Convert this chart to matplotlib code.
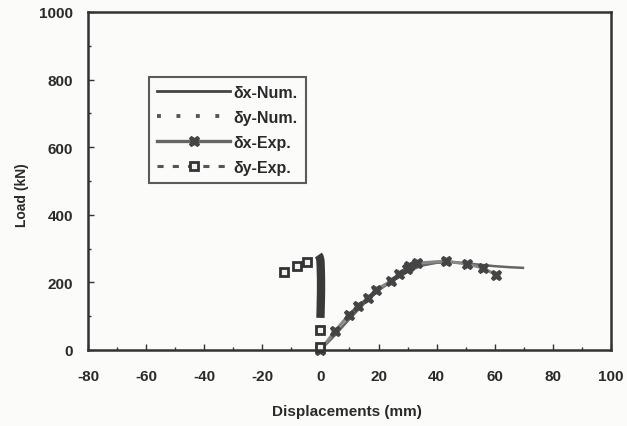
import matplotlib
matplotlib.use("Agg")
import matplotlib.pyplot as plt
from matplotlib.ticker import MultipleLocator
from matplotlib.lines import Line2D

plt.rcParams['font.family'] = ['Liberation Sans', 'DejaVu Sans']
plt.rcParams['font.weight'] = 'bold'
plt.rcParams['axes.unicode_minus'] = False

# Numerical curves
dx_num_x = [0, 5, 10, 15, 20, 25, 30, 35, 40, 45, 50, 55, 60, 65, 69.7]
dx_num_y = [0, 44, 92, 137, 176, 207, 232, 250, 258, 260, 257, 252, 248, 245, 243]

dy_num_x = [0.0, 0.1, 0.2, 0.2, 0.1, 0.0, -0.3, -0.7]
dy_num_y = [95, 130, 170, 210, 245, 265, 276, 281]

# Experimental curves
dx_exp_x = [0, 5.0, 9.8, 12.9, 16.4, 19.1, 24.3, 27.0, 29.8, 30.6, 33.2, 43.2, 50.6, 55.8, 60.6]
dx_exp_y = [0, 56, 104, 130, 154, 178, 204, 225, 240, 249, 257, 263, 254, 243, 222]

dy_exp_x = [0, -0.3, -4.6, -8.1, -12.5]
dy_exp_y = [8, 59, 260, 249, 231]

bg = '#fbfbf9'
ink = '#2a2a2a'
fig = plt.figure(figsize=(6.27, 4.27), dpi=100)
fig.patch.set_facecolor(bg)
ax = fig.add_axes([0.1404, 0.178, 0.834, 0.7916])
ax.set_facecolor(bg)

ax.plot(dx_num_x, dx_num_y, '-', color='#666666', lw=1.8)
# dense dotted numerical δy trace merges into a thick dark band
ax.plot(dy_num_x, dy_num_y, '-', color='#3a3a3a', lw=6, solid_capstyle='butt')
ax.plot(dx_exp_x, dx_exp_y, '-', color='#888888', lw=2.2, marker='X', ms=7.5,
        mfc='#444444', mec='#444444', mew=0.8, clip_on=False)
ax.plot(dy_exp_x, dy_exp_y, ls='none', marker='s', ms=6,
        mfc='#f2f2f2', mec='#333333', mew=2, clip_on=False)

handles = [
    Line2D([], [], ls='-', color='#444444', lw=2),
    Line2D([], [], ls=(0, (1, 4)), color='#555555', lw=2.8),
    Line2D([], [], ls='-', color='#666666', lw=2.4, marker='X', ms=7.5,
           mfc='#444444', mec='#444444', mew=0.8),
    Line2D([], [], ls=(0, (2, 3)), color='#555555', lw=2.2, marker='s', ms=6,
           mfc='#f2f2f2', mec='#333333', mew=2),
]
labels = ['δx-Num.', 'δy-Num.', 'δx-Exp.', 'δy-Exp.']
leg = ax.legend(handles, labels, loc='upper left', bbox_to_anchor=(0.1166, 0.808),
                frameon=True, fancybox=False, handlelength=4.6,
                handletextpad=0.2, borderpad=0.5, labelspacing=0.62,
                borderaxespad=0, prop={'size': 11.5, 'weight': 'bold'})
for t in leg.get_texts():
    t.set_color(ink)
leg.get_frame().set_edgecolor('#333333')
leg.get_frame().set_linewidth(1.5)
leg.get_frame().set_facecolor(bg)

ax.set_xlim(-80, 100)
ax.set_ylim(0, 1000)
ax.xaxis.set_major_locator(MultipleLocator(20))
ax.xaxis.set_minor_locator(MultipleLocator(10))
ax.yaxis.set_major_locator(MultipleLocator(200))
ax.yaxis.set_minor_locator(MultipleLocator(100))
ax.tick_params(which='both', direction='in', labelsize=11, colors='#333333',
               labelcolor=ink)
ax.tick_params(which='major', length=4, width=1)
ax.tick_params(which='minor', length=2.5, width=1)
ax.tick_params(axis='x', pad=14)
ax.tick_params(axis='y', pad=11)
for lab in ax.get_xticklabels() + ax.get_yticklabels():
    lab.set_fontweight('bold')
for s in ax.spines.values():
    s.set_linewidth(1.8)
    s.set_color('#333333')

ax.set_xlabel('Displacements (mm)', fontsize=11, fontweight='bold', color=ink)
ax.set_ylabel('Load (kN)', fontsize=10, fontweight='bold', color=ink)
ax.xaxis.set_label_coords(0.495, -0.180)
ax.yaxis.set_label_coords(-0.126, 0.46)
ax.xaxis.label.set_va('center')
ax.yaxis.label.set_va('center')

fig.savefig('out.png', dpi=100, facecolor=fig.get_facecolor())
